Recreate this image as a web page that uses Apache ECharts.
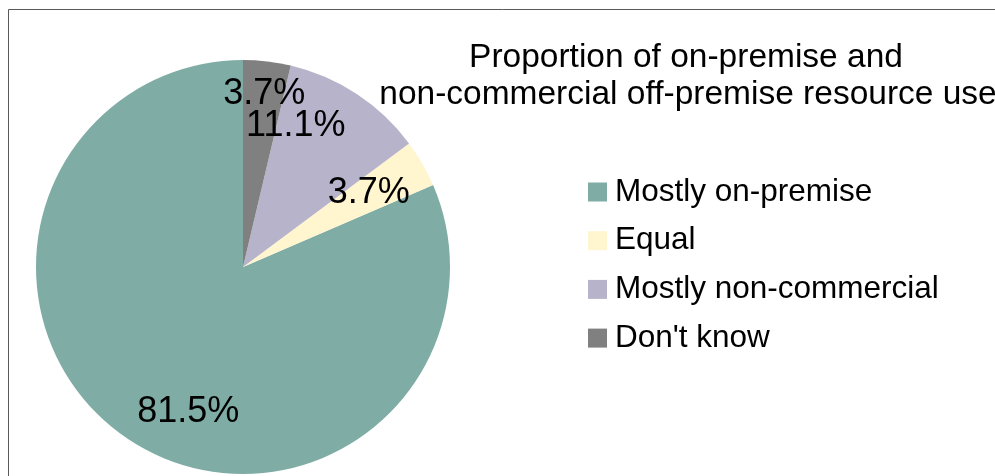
<!DOCTYPE html>
<html>
<head>
<meta charset="utf-8">
<script src="https://cdn.jsdelivr.net/npm/echarts@6/dist/echarts.min.js"></script>
<style>
  html, body { margin: 0; padding: 0; background: #fff; }
  #chart { width: 995px; height: 476px; }
</style>
</head>
<body>
<div id="chart"></div>
<script>
// Survey answers (respondent counts)
const categories = ['Mostly on-premise', 'Equal', 'Mostly non-commercial', "Don't know"];
const counts = [22, 1, 3, 1];
const colors = ['#7fada5', '#fff5ce', '#b7b3ca', '#808080'];
const titleLines = ['Proportion of on-premise and', 'non-commercial off-premise resource use'];

// Nudges for the percentage labels so they sit clear of each other
const labelNudge = [[32, 13], [-11, 5], [-34, -9], [3, -16]];

const FONT = 'Liberation Sans, Arial, sans-serif';
const chart = echarts.init(document.getElementById('chart'), null, { renderer: 'canvas' });

const pieData = categories.map((name, i) => ({
  name: name,
  value: counts[i],
  itemStyle: { color: colors[i] }
}));

const labelData = categories.map((name, i) => ({
  name: name,
  value: counts[i],
  label: { offset: labelNudge[i] }
}));

chart.setOption({
  animation: false,
  backgroundColor: '#ffffff',
  legend: {
    orient: 'vertical',
    left: 588,
    top: 174,
    padding: 0,
    itemWidth: 19,
    itemHeight: 19,
    itemGap: 12.7,
    icon: 'rect',
    data: categories,
    textStyle: {
      fontFamily: FONT,
      fontSize: 31.5,
      color: '#000',
      lineHeight: 36,
      padding: [0, 0, 0, 3]
    },
    selectedMode: false
  },
  graphic: [
    {
      type: 'rect',
      silent: true,
      shape: { x: 8.5, y: 9.5, width: 1100, height: 600 },
      style: { fill: 'none', stroke: '#5a5a5a', lineWidth: 1 }
    },
    {
      type: 'text',
      x: 686, y: 58,
      style: { text: titleLines[0], font: '33.5px ' + FONT, fill: '#000', textAlign: 'center', textVerticalAlign: 'middle' }
    },
    {
      type: 'text',
      x: 688, y: 95,
      style: { text: titleLines[1], font: '33.5px ' + FONT, fill: '#000', textAlign: 'center', textVerticalAlign: 'middle' }
    }
  ],
  series: [
    {
      name: 'share',
      type: 'pie',
      center: [243, 267],
      radius: [0, 207],
      startAngle: 90,
      clockwise: false,
      label: { show: false },
      labelLine: { show: false },
      emphasis: { disabled: true },
      itemStyle: { borderWidth: 0 },
      data: pieData
    },
    {
      name: 'labels',
      type: 'pie',
      center: [243, 267],
      radius: [103, 207],
      startAngle: 90,
      clockwise: false,
      silent: true,
      avoidLabelOverlap: false,
      labelLayout: { hideOverlap: false },
      percentPrecision: 1,
      itemStyle: { color: 'rgba(0,0,0,0)', borderWidth: 0 },
      label: {
        show: true,
        position: 'inside',
        formatter: '{d}%',
        fontFamily: FONT,
        fontSize: 36,
        color: '#000'
      },
      labelLine: { show: false },
      emphasis: { disabled: true },
      data: labelData
    }
  ]
});
</script>
</body>
</html>
